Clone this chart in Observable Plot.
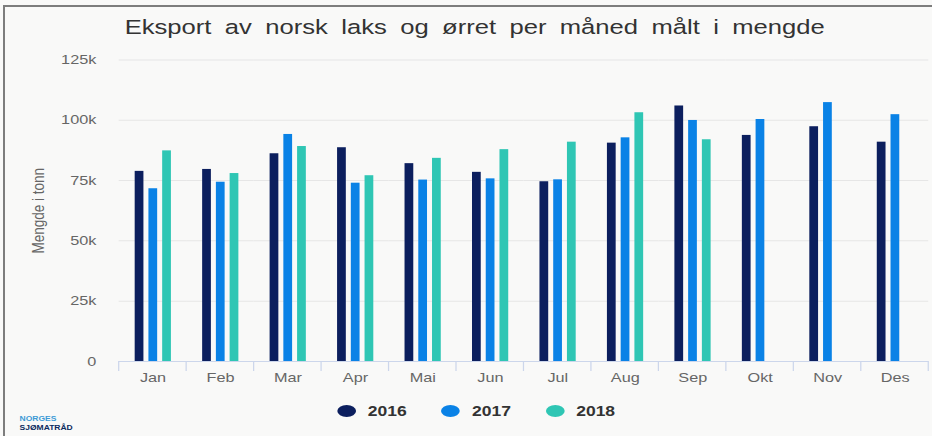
<!DOCTYPE html>
<html><head><meta charset="utf-8">
<script src="https://cdn.jsdelivr.net/npm/d3@7"></script>
<script src="https://cdn.jsdelivr.net/npm/@observablehq/plot@0.6"></script>
<style>
html,body{margin:0;padding:0;background:#f9f9f8;}
#page{position:relative;width:932px;height:436px;overflow:hidden;background:#f9f9f8;}
#frame{position:absolute;left:3px;top:5px;right:-5px;bottom:-5px;border-top:2px solid #7d7d7d;border-left:2px solid #7d7d7d;}
#stage{position:absolute;left:0;top:0;width:746px;height:436px;transform:scaleX(1.24933);transform-origin:0 0;font-family:"Liberation Sans",Arial,sans-serif;}
#title{position:absolute;left:0;width:760px;top:16px;line-height:22px;text-align:center;font-size:20.5px;color:#333;word-spacing:5px;white-space:nowrap;}
#chart{position:absolute;left:0;top:0;}
.leg{position:absolute;top:402px;height:18px;line-height:18px;font-size:14px;font-weight:bold;color:#333;}
.sym{position:absolute;top:405px;width:15px;height:12px;border-radius:50%;}
#logo{position:absolute;left:15.7px;top:415px;font-size:6.8px;font-weight:bold;line-height:8.5px;}
</style></head>
<body>
<div id="page">
  <div id="frame"></div>
  <div id="stage">
    <div id="title">Eksport av norsk laks og ørret per måned målt i mengde</div>
    <div id="chart"></div>
    <div id="legend"></div>
    <div id="logo"><div style="color:#3d9ad6">NORGES</div><div style="color:#0c2a5e">SJØMATRÅD</div></div>
  </div>
</div>
<script>
const months = ["Jan","Feb","Mar","Apr","Mai","Jun","Jul","Aug","Sep","Okt","Nov","Des"];
const years = ["2016","2017","2018"];
const v2016 = [78800, 79600, 86100, 88600, 82000, 78400, 74500, 90500, 105900, 93700, 97300, 90900];
const v2017 = [71600, 74300, 94100, 73900, 75200, 75700, 75300, 92700, 99900, 100300, 107300, 102300];
const v2018 = [87300, 77900, 89100, 77000, 84200, 87800, 90900, 103100, 91900, null, null, null];
const colors = ["#0c1f5e", "#0a82e6", "#2fc6b4"];
const yTicks = [0, 25000, 50000, 75000, 100000, 125000];
const yLabel = "Mengde i tonn";

const series = [v2016, v2017, v2018];
const rows = [];
months.forEach((m, i) => {
  series.forEach((arr, j) => {
    if (arr[i] != null) rows.push({month: m, year: years[j], value: arr[i]});
  });
});

const chart = Plot.plot({
  width: 746,
  height: 391,
  marginLeft: 95.2,
  marginRight: 2.4,
  marginTop: 59.4,
  marginBottom: 30,
  style: {background: "transparent", fontFamily: "'Liberation Sans', Arial, sans-serif", fontSize: "13px", color: "#666", overflow: "visible"},
  facet: {data: rows, x: "month"},
  fx: {domain: months, padding: 0, label: null, tickSize: 0, tickPadding: 11},
  x: {domain: years, paddingInner: 0.336, paddingOuter: 1.09, axis: null},
  y: {domain: [0, 125000], ticks: yTicks, tickFormat: d => d === 0 ? "0" : d / 1000 + "k", tickSize: 0, tickPadding: 18.4, label: yLabel, labelAnchor: "center", labelOffset: 70},
  color: {domain: years, range: colors},
  marks: [
    Plot.ruleY(yTicks, {stroke: "#e6e6e6"}),
    Plot.barY(rows, {x: "year", y: "value", fill: "year"}),
    Plot.ruleY([0], {stroke: "#ccd6eb"})
  ]
});
document.getElementById("chart").appendChild(chart);

// axis label without the direction arrow
d3.select(chart).selectAll("text").each(function() {
  if (this.textContent.includes("Mengde")) {
    this.textContent = yLabel;
    this.setAttribute("font-size", "13.5px");
  }
});

// category boundary ticks (between bands), from the fx scale
const fx = chart.scale("fx"), ys = chart.scale("y");
const y0 = ys.apply(0);
const edges = months.map(m => fx.apply(m));
edges.push(fx.apply(months[months.length - 1]) + fx.bandwidth);
d3.select(chart).append("g").attr("aria-label", "category ticks")
  .selectAll("line").data(edges).join("line")
  .attr("x1", d => d).attr("x2", d => d)
  .attr("y1", y0).attr("y2", y0 + 10)
  .attr("stroke", "#ccd6eb");

// legend
const legend = document.getElementById("legend");
const legX = [269.8, 353.3, 436.6];
years.forEach((yr, i) => {
  const s = document.createElement("div");
  s.className = "sym"; s.style.left = legX[i] + "px"; s.style.background = colors[i];
  legend.appendChild(s);
  const t = document.createElement("div");
  t.className = "leg"; t.style.left = (legX[i] + 24.6) + "px"; t.textContent = yr;
  legend.appendChild(t);
});
</script>
</body></html>
